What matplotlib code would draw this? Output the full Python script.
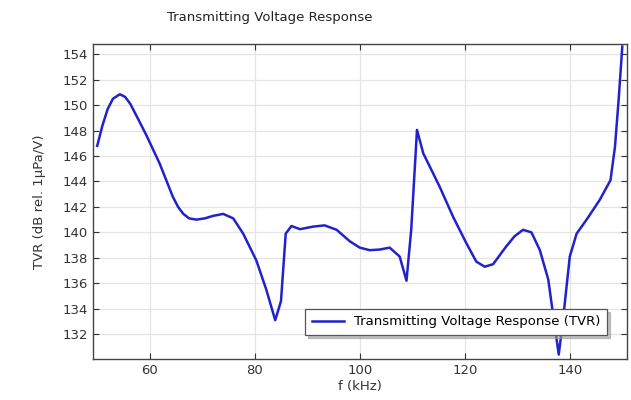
import matplotlib.pyplot as plt

freq_khz = [50.0, 51.0, 52.0, 53.0, 54.3, 55.3, 56.3, 57.8, 59.4, 61.9, 64.4,
            65.4, 66.4, 67.5, 68.9, 70.5, 72.1, 74.0, 75.9, 77.8, 80.3, 82.2,
            83.9, 85.0, 85.9, 87.0, 88.6, 91.1, 93.3, 95.6, 98.1, 100.0, 101.9,
            103.8, 105.7, 107.6, 108.9, 109.8, 110.9, 112.1, 113.3, 115.2,
            117.8, 120.3, 122.2, 123.8, 125.4, 127.9, 129.5, 131.1, 132.7,
            134.3, 135.9, 136.8, 137.9, 138.7, 140.0, 141.3, 143.2, 145.7,
            147.75, 148.6, 149.3, 150.0]
tvr_db = [146.8, 148.4, 149.7, 150.5, 150.85, 150.65, 150.1, 148.9, 147.6,
          145.4, 142.8, 142.0, 141.45, 141.1, 141.0, 141.1, 141.3, 141.45,
          141.1, 139.9, 137.8, 135.5, 133.1, 134.6, 139.9, 140.5, 140.25,
          140.45, 140.55, 140.2, 139.3, 138.8, 138.6, 138.65, 138.8, 138.1,
          136.2, 140.2, 148.05, 146.2, 145.2, 143.6, 141.2, 139.15, 137.7,
          137.3, 137.5, 138.9, 139.7, 140.2, 140.0, 138.6, 136.3, 133.6,
          130.4, 133.1, 138.1, 139.9, 141.0, 142.55, 144.1, 146.7, 150.4, 154.6]

plt.rcParams['font.family'] = 'DejaVu Sans'

fig = plt.figure(figsize=(6.31, 4.0), dpi=100)
ax = fig.add_axes([0.1474, 0.1025, 0.8463, 0.7875])

ax.plot(freq_khz, tvr_db, color='#2222cc', lw=1.8, solid_joinstyle='round',
        label='Transmitting Voltage Response (TVR)')

ax.set_xlim(49.2, 150.9)
ax.set_ylim(130.05, 154.8)
ax.set_xticks([60, 80, 100, 120, 140])
ax.set_yticks(range(132, 156, 2))
ax.grid(True, color='#e4e4e4', lw=0.9)
ax.tick_params(direction='in', length=4, labelsize=9.5, colors='#333333',
               top=True, right=True)
for s in ax.spines.values():
    s.set_color('#444444')
    s.set_linewidth(1.0)

ax.set_xlabel('f (kHz)', fontsize=9.5, color='#333333', labelpad=2)
ax.set_ylabel('TVR (dB rel. 1µPa/V)', fontsize=9.5, color='#333333', labelpad=12)
fig.text(0.428, 0.955, 'Transmitting Voltage Response', ha='center', va='center',
         fontsize=9.5, color='#222222')

leg = ax.legend(loc='lower right', bbox_to_anchor=(0.975, 0.055), fontsize=9.5,
                fancybox=False, shadow={'color': '0.6', 'alpha': 0.6},
                framealpha=1, edgecolor='#555555', handlelength=2.4, borderpad=0.5)
leg.get_frame().set_linewidth(0.9)

fig.savefig('out.png', dpi=100)
